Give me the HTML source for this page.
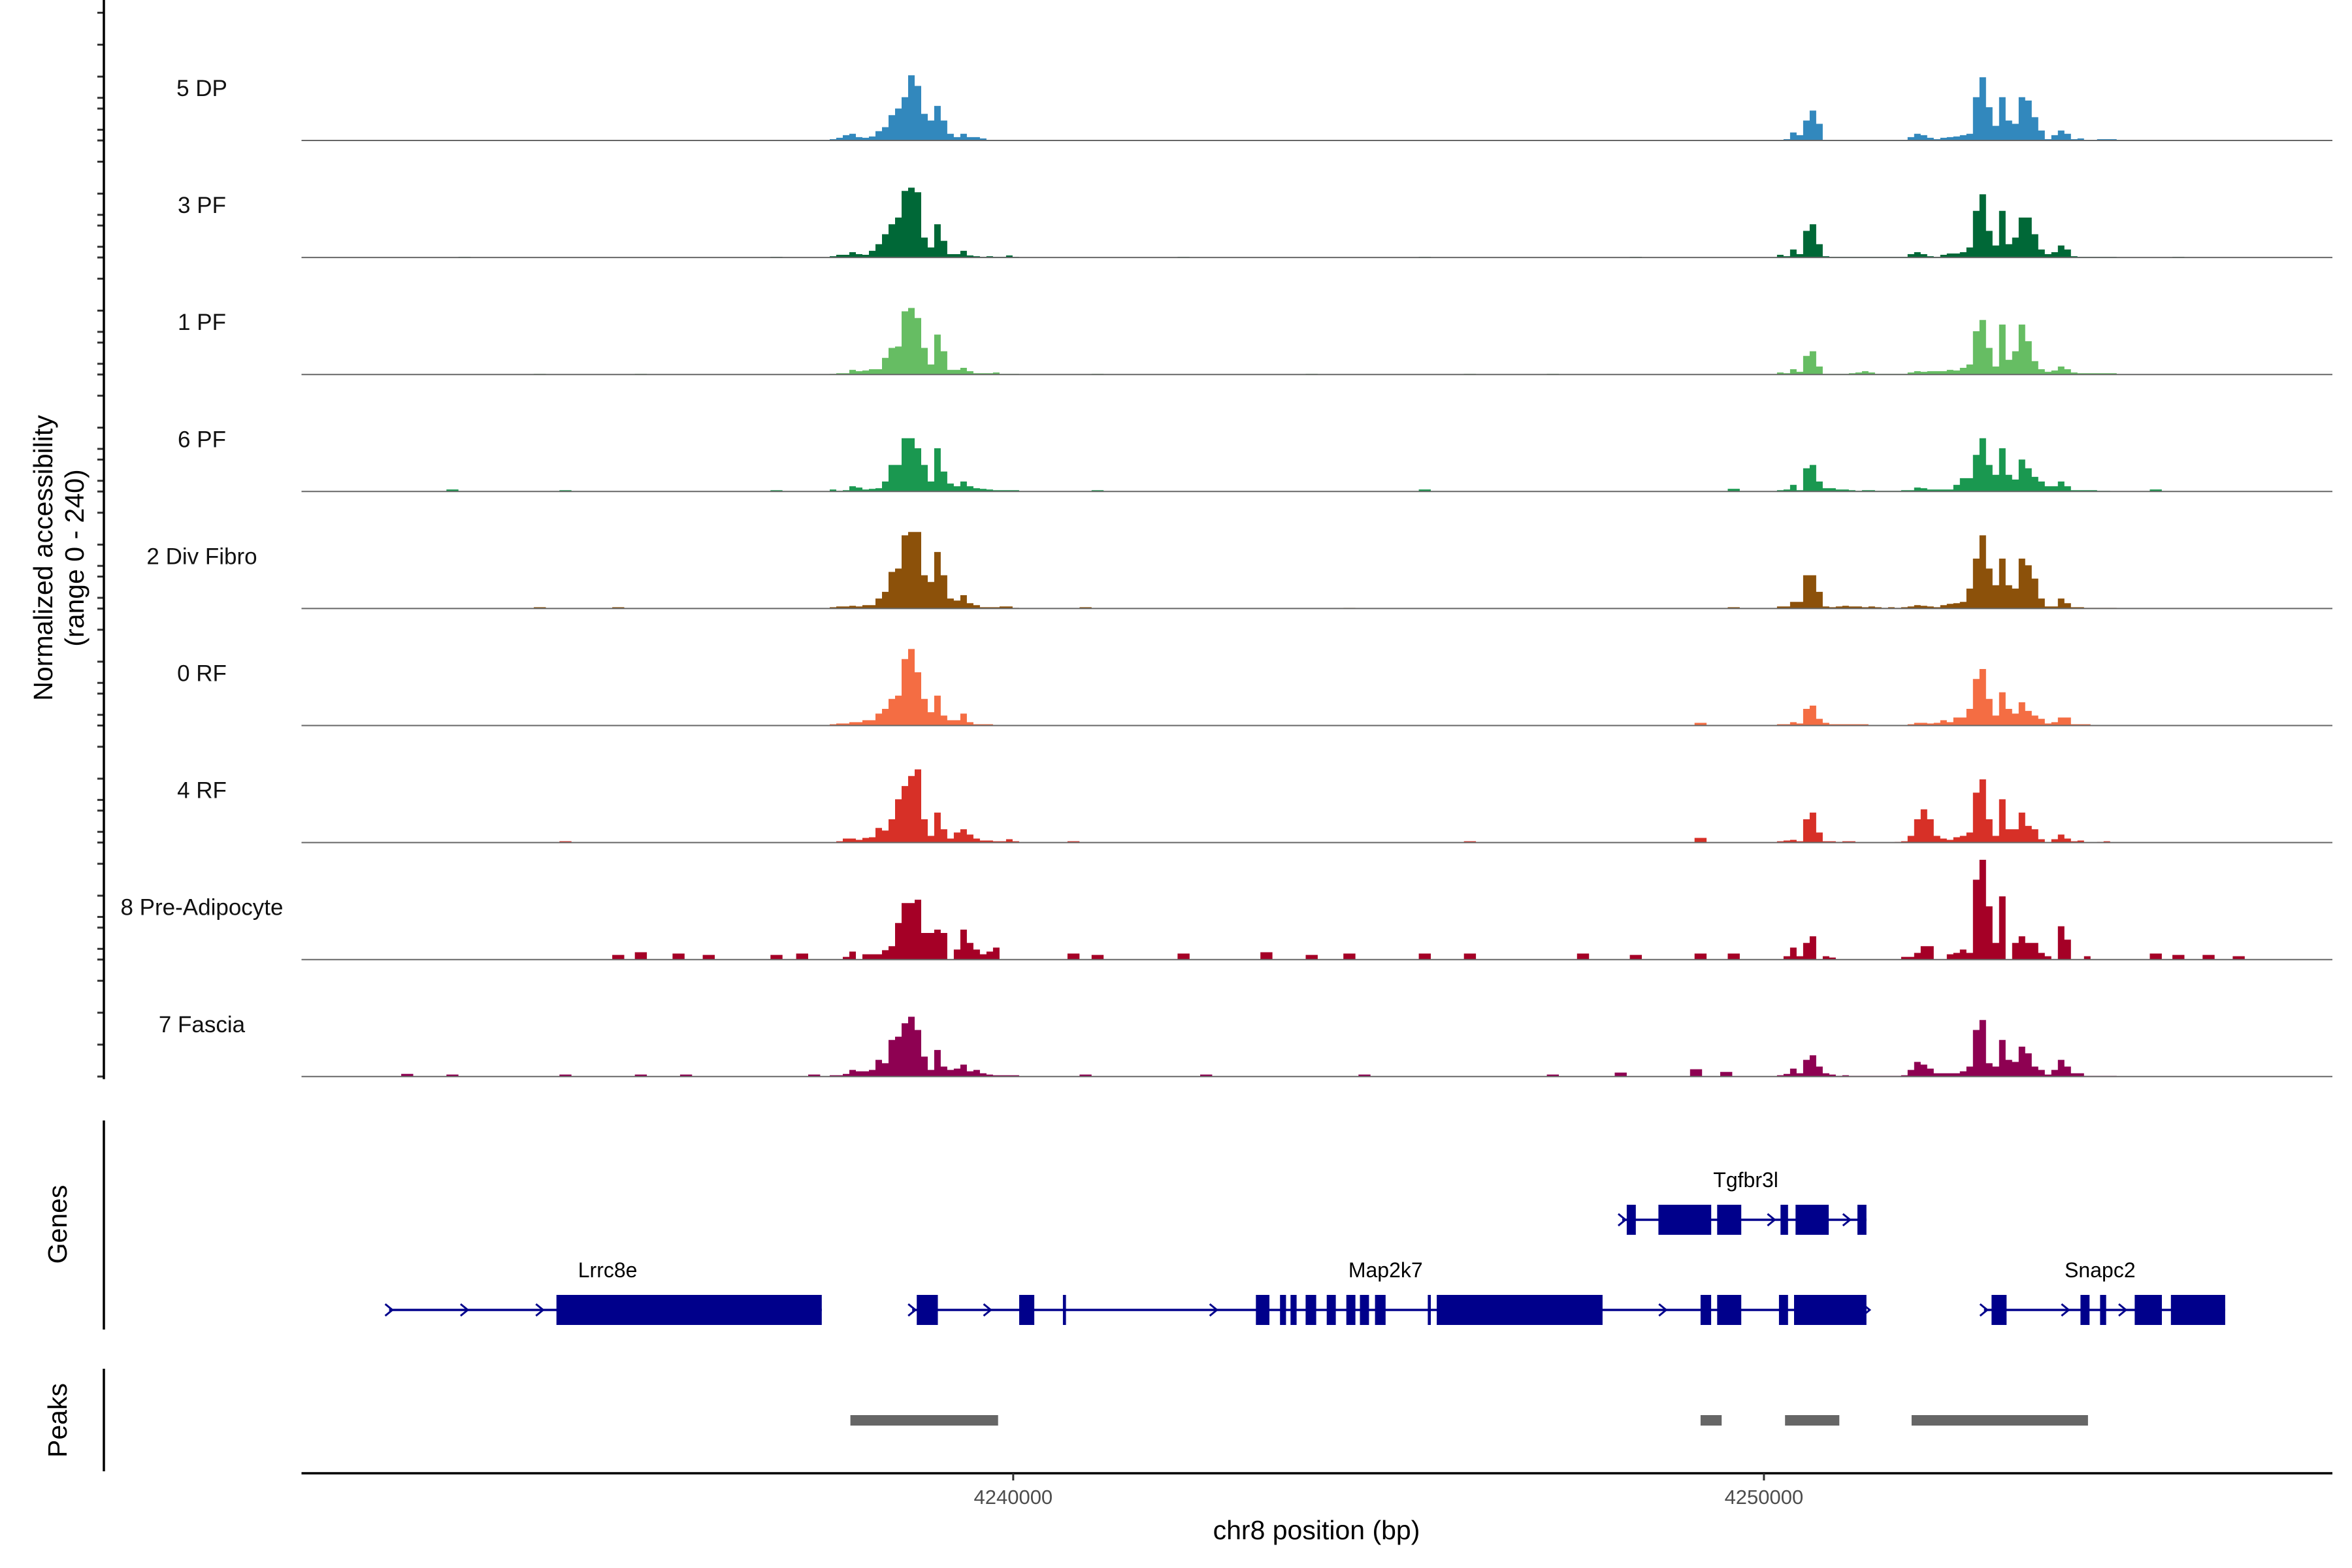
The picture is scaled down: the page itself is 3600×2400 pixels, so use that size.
<!DOCTYPE html>
<html><head><meta charset="utf-8"><style>
html,body{margin:0;padding:0;background:#fff;}
svg{display:block;font-family:"Liberation Sans",Arial,sans-serif;}
</style></head><body>
<svg id="chart" width="3600" height="2400" viewBox="0 0 3600 2400" xmlns="http://www.w3.org/2000/svg">
<rect x="0" y="0" width="3600" height="2400" fill="#fff"/>
<g id="tracks"></g>
<g id="yaxis"></g>
<text transform="translate(80,854) rotate(-90)" text-anchor="middle" font-size="41" fill="#000">Normalized accessibility</text>
<text transform="translate(128,854) rotate(-90)" text-anchor="middle" font-size="41" fill="#000">(range 0 - 240)</text>
<g id="genes"></g>
<line x1="159" y1="1715" x2="159" y2="2035" stroke="#000" stroke-width="3.5"/>
<text transform="translate(102,1874) rotate(-90)" text-anchor="middle" font-size="41" fill="#000">Genes</text>
<g id="peaks"></g>
<line x1="159" y1="2095" x2="159" y2="2252" stroke="#000" stroke-width="3.5"/>
<text transform="translate(102,2174) rotate(-90)" text-anchor="middle" font-size="41" fill="#000">Peaks</text>
<g id="xaxis"></g>
<text x="2015" y="2356" text-anchor="middle" font-size="41" fill="#000">chr8 position (bp)</text>
</svg>
<script>
const trackNames = ["5 DP","3 PF","1 PF","6 PF","2 Div Fibro","0 RF","4 RF","8 Pre-Adipocyte","7 Fascia"];
const trackColors = ["#3288bd","#006837","#66bd63","#1a9850","#8c510a","#f46d43","#d73027","#a50026","#8e0152"];
const region1Start = 4237556;
const region2Start = 4250174;
const binSize = 87;
const yMax = 165;
const region1Values = [
 [2,4,8,10,5,4,6,14,20,38,48,65,98,82,40,30,52,30,10,5,10,5,5,3,1,1,1,1,1],
 [2,4,4,8,5,4,10,20,35,50,60,100,105,98,30,15,50,25,5,5,10,3,2,1,2,1,1,3,1],
 [1,2,2,7,5,6,8,8,25,40,42,95,100,85,40,15,60,35,7,7,10,5,2,2,2,3,1,1,1],
 [3,1,2,8,6,3,4,5,15,40,40,80,80,65,40,15,65,30,12,8,15,8,5,4,3,2,2,2,2],
 [2,3,3,4,3,5,5,15,25,55,60,110,115,115,50,40,85,50,15,12,20,8,5,2,2,2,3,3,1],
 [2,3,3,5,5,8,8,18,25,40,45,100,115,80,40,20,45,15,8,8,18,5,2,2,2,1,0,0,0],
 [0,2,6,6,4,7,8,22,18,35,65,85,100,110,35,10,45,20,6,15,20,12,6,3,3,2,2,5,2],
 [0,0,4,12,0,8,8,8,14,20,55,85,85,90,40,40,45,40,0,15,45,25,15,8,12,18,0,0,0],
 [2,2,4,10,8,8,10,25,20,55,60,80,90,70,30,10,40,15,10,12,18,8,10,5,3,2,2,2,2]
];
const region2Values = [
 [1,2,12,8,30,45,25,1,1,1,1,1,1,1,1,1,1,1,1,1,5,10,8,4,2,4,5,6,8,10,65,95,50,22,65,30,25,65,60,35,15,2,8,15,10,2,3,1,0,2,2,2],
 [4,2,12,5,40,50,20,2,1,1,1,1,1,1,1,1,1,1,1,1,5,8,5,2,1,4,6,6,8,15,70,95,40,18,70,20,30,60,60,35,12,5,8,18,12,2,1,1,1,1,1,1],
 [3,2,8,4,28,35,12,1,1,1,1,2,3,5,3,1,1,1,1,1,3,5,4,5,5,5,7,6,10,15,65,82,40,12,75,22,35,75,50,20,8,4,6,12,8,3,2,2,2,2,2,2],
 [2,3,10,2,35,40,15,5,5,3,3,2,1,2,2,1,1,1,1,2,2,6,5,3,3,3,3,10,20,20,55,80,40,25,65,25,18,48,35,22,15,8,8,15,8,2,2,2,2,1,1,0],
 [3,3,10,10,50,50,25,3,2,3,4,3,3,2,3,2,1,2,1,2,3,5,4,3,2,5,7,8,10,30,75,110,60,35,75,35,30,75,65,45,15,3,3,15,8,2,2,1,1,1,1,1],
 [2,2,5,3,25,30,10,4,2,2,2,2,2,2,0,0,0,0,0,0,2,4,4,3,4,8,5,12,12,25,70,85,40,15,50,25,18,35,22,15,10,3,5,12,12,2,2,2,1,1,1,0],
 [2,3,4,2,35,45,15,2,2,1,2,2,0,0,0,0,0,0,1,2,10,35,50,35,10,6,4,8,10,15,75,95,35,10,65,20,20,45,25,20,5,0,5,12,6,2,3,0,0,1,2,0],
 [0,5,18,5,25,35,0,5,3,0,0,0,0,0,0,0,0,0,0,4,4,10,20,20,0,0,8,10,15,10,120,150,80,25,95,0,25,35,25,25,10,5,0,50,30,0,0,5,0,0,0,0],
 [2,4,12,5,25,32,15,5,3,1,2,1,1,1,1,1,1,1,1,2,10,22,18,12,5,5,5,5,8,15,70,85,20,15,55,25,22,45,35,15,10,3,10,25,15,5,5,1,1,1,1,1]
];
const bumpPositions = [
 [4240964,4242570,4244478,4245482,4247590,4255220],
 [4232691,4236847,4242269,4245482,4248293,4255521],
 [4233695,4235040,4241124,4243976,4246084,4247188],
 [4232530,4234036,4236847,4241124,4245482,4249598,4255220],
 [4233695,4234739,4240964,4244478,4249598],
 [4233916,4236847,4245482,4249156],
 [4234036,4240803,4246084,4249156],
 [4234739,4235040,4235542,4235944,4236847,4237189,4240803,4241124,4242269,4243373,4243976,4244478,4245482,4246084,4247590,4248293,4249156,4249598,4255220,4255521,4255923,4256324],
 [4231928,4232530,4234036,4235040,4235642,4237349,4240964,4242570,4244679,4247188,4248092,4249096,4249498]
];
const bumpValues = [
 [1,1,1,1,1,1],
 [1,1,1,1,1,1],
 [1,1,1,1,1,1],
 [3,2,2,2,3,4,3],
 [2,2,2,1,2],
 [1,1,1,4],
 [2,2,2,7],
 [7,11,9,7,7,9,9,7,9,11,7,9,9,9,9,7,9,9,9,7,7,5],
 [4,3,3,3,3,3,3,3,3,3,6,11,7]
];
const xTickValues = [4240000,4250000];
const xTickLabels = ["4240000","4250000"];
const yTickValues = [0,48,96,144,192,240];
const genes = [
 {name:"Lrrc8e",start:4231687,end:4237450,row:1,labelPos:4234598,
  exons:[[4233916,4237450]],arrows:[4231687,4232691,4233695]},
 {name:"Map2k7",start:4238654,end:4251365,row:1,labelPos:4244960,
  exons:[[4238715,4238996],[4240080,4240281],[4240662,4240703],[4243233,4243413],[4243554,4243634],[4243694,4243775],[4243895,4244036],[4244176,4244297],[4244437,4244558],[4244618,4244739],[4244819,4244960],[4245522,4245562],[4245642,4247851],[4249156,4249297],[4249377,4249698],[4250200,4250321],[4250401,4251365]],
  arrows:[4238654,4239658,4242670,4248654,4251365]},
 {name:"Tgfbr3l",start:4248112,end:4251365,row:0,labelPos:4249758,
  exons:[[4248172,4248293],[4248594,4249297],[4249377,4249698],[4250221,4250321],[4250421,4250863],[4251245,4251365]],
  arrows:[4248112,4250100,4251104]},
 {name:"Snapc2",start:4252931,end:4256144,row:1,labelPos:4254477,
  exons:[[4253032,4253232],[4254216,4254337],[4254477,4254558],[4254939,4255301],[4255421,4256144]],
  arrows:[4252931,4254016,4254779]}
];
const peakStarts = [4237831,4249156,4250281,4251967];
const peakEnds = [4239799,4249437,4251004,4254317];

const NS="http://www.w3.org/2000/svg";
const X0=461.5, X1=3570, bpMin=4230520, bpMax=4257572;
function xs(bp){return X0+(bp-bpMin)/(bpMax-bpMin)*(X1-X0);}
const trackTop0=215, trackStep=179.1, trackH=168;
function baseY(t){return trackTop0+t*trackStep;}
function ys(t,v){return baseY(t)-v/yMax*trackH;}
function mk(tag,attrs,parent){const e=document.createElementNS(NS,tag);for(const k in attrs)e.setAttribute(k,attrs[k]);parent.appendChild(e);return e;}

const gT=document.getElementById('tracks');
const gY=document.getElementById('yaxis');
for(let t=0;t<trackNames.length;t++){
  const g=mk('g',{},gT);
  
  
  const by=baseY(t);
  let d='';
  [[region1Start,region1Values[t]],[region2Start,region2Values[t]]].forEach(([st,vals])=>{
    d+='M'+xs(st).toFixed(1)+','+by;
    vals.forEach((v,i)=>{
      const xa=xs(st+i*binSize),xb=xs(st+(i+1)*binSize),y=ys(t,v).toFixed(1);
      d+='L'+xa.toFixed(1)+','+y+'L'+xb.toFixed(1)+','+y;
    });
    d+='L'+xs(st+vals.length*binSize).toFixed(1)+','+by+'Z';
  });
  const p=mk('path',{d:d,fill:trackColors[t]},g);
  
  
  bumpPositions[t].forEach((bp,i)=>{
    const xa=xs(bp-80),xb=xs(bp+80),y=ys(t,bumpValues[t][i]);
    const r=mk('rect',{x:xa.toFixed(1),y:y.toFixed(1),width:(xb-xa).toFixed(1),height:(by-y).toFixed(1),fill:trackColors[t]},g);
    
    
  });
  const bl=mk('line',{x1:X0,x2:X1,y1:by,y2:by,stroke:'#666','stroke-width':2},g);
  
  
  const lb=mk('text',{x:309,y:by-68,'text-anchor':'middle','font-size':35,fill:'#111'},g);
  lb.textContent=trackNames[t];
  
  
  yTickValues.forEach(v=>{
    const y=ys(t,v);
    const tk=mk('line',{x1:149,x2:159,y1:y,y2:y,stroke:'#333','stroke-width':3},gY);
    
    
  });
}
const yl=mk('line',{x1:159,x2:159,y1:ys(0,yTickValues[5]),y2:baseY(8)+4,stroke:'#000','stroke-width':3.5},gY);



// genes
const gG=document.getElementById('genes');
const rowY=[1867,2005];
genes.forEach(gn=>{
  const g=mk('g',{},gG);
  
  
  const y=rowY[gn.row];
  const l=mk('line',{x1:xs(gn.start),x2:xs(gn.end),y1:y,y2:y,stroke:'#00008b','stroke-width':3.5},g);
  
  
  gn.exons.forEach(e=>{
    const xa=xs(e[0]),xb=xs(e[1]);
    const r=mk('rect',{x:xa.toFixed(1),y:y-23,width:Math.max(3,xb-xa).toFixed(1),height:46,fill:'#00008b'},g);
    
    
  });
  gn.arrows.forEach(a=>{
    const x=xs(a);
    const ar=mk('path',{d:'M'+(x-6)+','+(y-9)+'L'+(x+5)+','+y+'L'+(x-6)+','+(y+9),fill:'none',stroke:'#00008b','stroke-width':3},g);
    
    
  });
  const tx=mk('text',{x:xs(gn.labelPos),y:y-50,'text-anchor':'middle','font-size':32,fill:'#000'},g);
  tx.textContent=gn.name;
  
  
});

// peaks
const gP=document.getElementById('peaks');
peakStarts.forEach((s,i)=>{
  const xa=xs(s),xb=xs(peakEnds[i]);
  const r=mk('rect',{x:xa.toFixed(1),y:2166,width:(xb-xa).toFixed(1),height:16,fill:'#666'},gP);
  
  
});

// x axis
const gX=document.getElementById('xaxis');
const xl=mk('line',{x1:X0,x2:X1,y1:2255,y2:2255,stroke:'#000','stroke-width':3.5},gX);


xTickValues.forEach((v,i)=>{
  const x=xs(v);
  const tk=mk('line',{x1:x,x2:x,y1:2255,y2:2266,stroke:'#333','stroke-width':3},gX);
  
  
  const tl=mk('text',{x:x,y:2302,'text-anchor':'middle','font-size':31,fill:'#4d4d4d'},gX);
  tl.textContent=xTickLabels[i];
  
  
});
</script>
</body></html>
